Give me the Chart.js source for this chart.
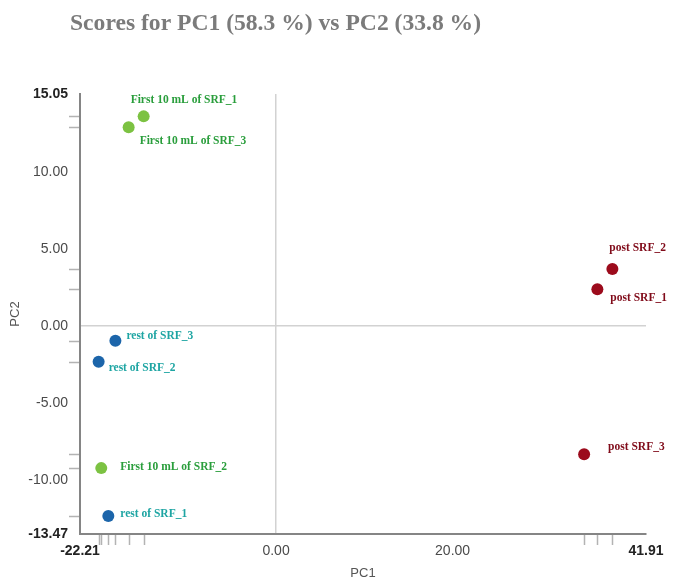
<!DOCTYPE html>
<html>
<head>
<meta charset="utf-8">
<script src="https://cdn.jsdelivr.net/npm/chart.js@4"></script>
<style>
  html, body { margin: 0; padding: 0; background: #fff; }
  #wrap { width: 677px; height: 581px; position: relative; }
</style>
</head>
<body>
<div id="wrap"><canvas id="myChart" width="677" height="581"></canvas></div>
<script>
// scores
const firstNames = ["First 10 mL of SRF_1", "First 10 mL of SRF_2", "First 10 mL of SRF_3"];
const firstPC1 = [-15.0, -19.8, -16.7];
const firstPC2 = [13.6, -9.2, 12.9];

const restNames = ["rest of SRF_1", "rest of SRF_2", "rest of SRF_3"];
const restPC1 = [-19.0, -20.1, -18.2];
const restPC2 = [-12.3, -2.3, -0.95];

const postNames = ["post SRF_1", "post SRF_2", "post SRF_3"];
const postPC1 = [36.4, 38.1, 34.9];
const postPC2 = [2.4, 3.7, -8.3];

const xTicks = [-22.21, 0, 20, 41.91];
const yTicks = [-13.47, -10, -5, 0, 5, 10, 15.05];

// where each label sits next to its dot (px)
const firstLabelPos = [[-13, -16], [19, -1], [11, 14]];
const restLabelPos = [[12, -2], [10, 6], [11, -5]];
const postLabelPos = [[13, 9], [-3, -21], [24, -7]];

function toPoints(xs, ys) {
  return xs.map((x, i) => ({ x: x, y: ys[i] }));
}

const groups = [
  { names: firstNames, pos: firstLabelPos, dot: "#7cc242", text: "#2a9e3c" },
  { names: restNames, pos: restLabelPos, dot: "#1c65aa", text: "#1ea5a3" },
  { names: postNames, pos: postLabelPos, dot: "#9c0b1c", text: "#800b1a" },
];

const pointLabels = {
  id: "pointLabels",
  afterDatasetsDraw(chart) {
    const ctx = chart.ctx;
    ctx.save();
    ctx.font = "bold 11.5px 'Liberation Serif', serif";
    ctx.textAlign = "left";
    ctx.textBaseline = "middle";
    chart.data.datasets.forEach((ds, di) => {
      const g = groups[di];
      chart.getDatasetMeta(di).data.forEach((pt, i) => {
        ctx.fillStyle = g.text;
        ctx.fillText(g.names[i], pt.x + g.pos[i][0], pt.y + g.pos[i][1]);
      });
    });
    ctx.restore();
  },
};

// small rug marks along both axes, one for each score
const rugTicks = {
  id: "rugTicks",
  afterDraw(chart) {
    const ctx = chart.ctx;
    const area = chart.chartArea;
    const xs = chart.scales.x, ys = chart.scales.y;
    ctx.save();
    ctx.strokeStyle = "#b3b3b3";
    ctx.lineWidth = 1.5;
    chart.data.datasets.forEach((ds) => {
      ds.data.forEach((p) => {
        const px = Math.round(xs.getPixelForValue(p.x)) + 0.5;
        const py = Math.round(ys.getPixelForValue(p.y)) + 0.5;
        ctx.beginPath();
        ctx.moveTo(px, area.bottom + 1);
        ctx.lineTo(px, area.bottom + 11);
        ctx.moveTo(area.left - 1, py);
        ctx.lineTo(area.left - 11, py);
        ctx.stroke();
      });
    });
    ctx.restore();
  },
};

const titleText = {
  id: "titleText",
  afterDraw(chart) {
    const ctx = chart.ctx;
    ctx.save();
    ctx.font = "bold 23.6px 'Liberation Serif', serif";
    ctx.fillStyle = "#7b7b7b";
    ctx.textBaseline = "alphabetic";
    ctx.fillText("Scores for PC1 (58.3 %) vs PC2 (33.8 %)", 70, 30);
    ctx.restore();
  },
};

function endFont(n) {
  return (c) => {
    const b = c.index === 0 || c.index === n - 1;
    return { family: "'Liberation Sans', Arial, sans-serif", size: 14, weight: b ? "bold" : "normal" };
  };
}

function endColor(n) {
  return (c) => (c.index === 0 || c.index === n - 1 ? "#222" : "#4a4a4a");
}

function zeroLine(ctx) {
  return ctx.tick && ctx.tick.value === 0 ? "#d2d2d2" : "rgba(0,0,0,0)";
}

const cxx = document.getElementById("myChart").getContext("2d");
new Chart(cxx, {
  type: "scatter",
  data: {
    datasets: [
      { label: "First 10 mL", data: toPoints(firstPC1, firstPC2), backgroundColor: groups[0].dot, borderColor: groups[0].dot },
      { label: "rest of", data: toPoints(restPC1, restPC2), backgroundColor: groups[1].dot, borderColor: groups[1].dot },
      { label: "post", data: toPoints(postPC1, postPC2), backgroundColor: groups[2].dot, borderColor: groups[2].dot },
    ],
  },
  options: {
    responsive: false,
    animation: false,
    elements: { point: { radius: 6, hoverRadius: 6, borderWidth: 0 } },
    layout: { padding: { top: 94, left: 4, right: 31, bottom: 0 } },
    plugins: { legend: { display: false }, tooltip: { enabled: false } },
    scales: {
      x: {
        type: "linear",
        min: -22.21,
        max: 41.91,
        afterBuildTicks: (s) => { s.ticks = xTicks.map((v) => ({ value: v })); },
        afterFit: (s) => { s.height = 47; },
        ticks: {
          padding: 9,
          color: endColor(xTicks.length),
          font: endFont(xTicks.length),
          callback: (v) => Number(v).toFixed(2),
        },
        grid: { color: zeroLine, lineWidth: 1.5, drawTicks: false },
        border: { display: true, color: "#858585", width: 2 },
        title: {
          display: true, text: "PC1", color: "#555",
          font: { family: "'Liberation Sans', Arial, sans-serif", size: 13 },
          padding: { top: 4, bottom: 0 },
        },
      },
      y: {
        type: "linear",
        min: -13.47,
        max: 15.05,
        afterBuildTicks: (s) => { s.ticks = yTicks.map((v) => ({ value: v })); },
        afterFit: (s) => { s.width = 76; },
        ticks: {
          padding: 12,
          color: endColor(yTicks.length),
          font: endFont(yTicks.length),
          callback: (v) => Number(v).toFixed(2),
        },
        grid: { color: zeroLine, lineWidth: 1.5, drawTicks: false },
        border: { display: true, color: "#858585", width: 2 },
        title: {
          display: true, text: "PC2", color: "#555",
          font: { family: "'Liberation Sans', Arial, sans-serif", size: 13 },
        },
      },
    },
  },
  plugins: [pointLabels, rugTicks, titleText],
});
</script>
</body>
</html>
